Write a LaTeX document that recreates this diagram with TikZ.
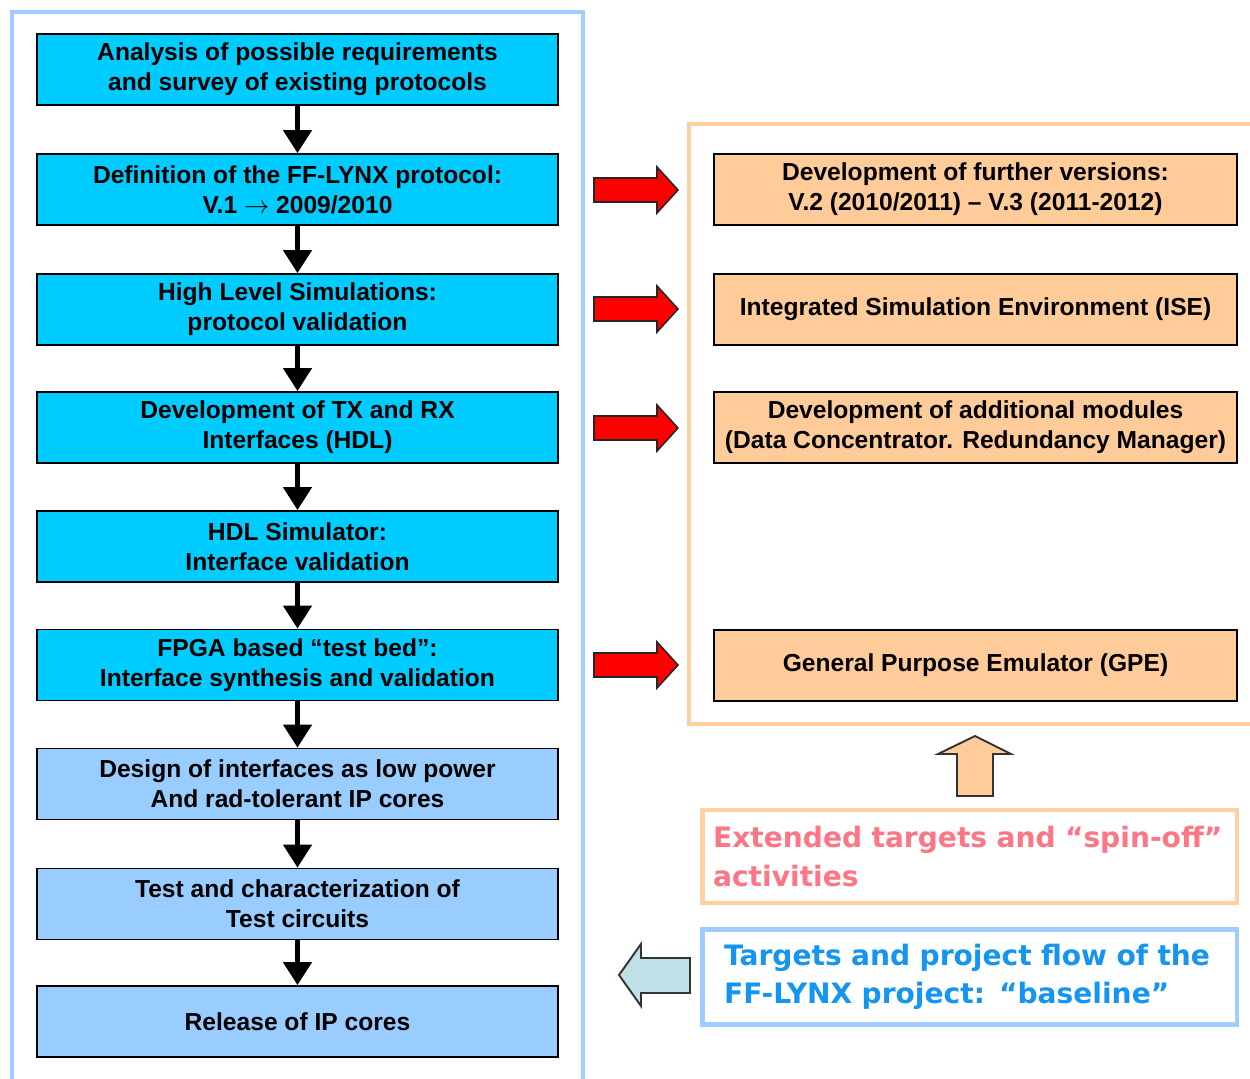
\documentclass[tikz,border=0pt]{standalone}
\usepackage{fontspec}
\setmainfont{Liberation Sans}
\newfontfamily\legendfont{DejaVu Sans}
\usetikzlibrary{arrows.meta}
\definecolor{stepcyan}{RGB}{0,204,255}
\definecolor{steplight}{RGB}{153,204,255}
\definecolor{peach}{RGB}{255,204,153}
\definecolor{framblue}{RGB}{160,204,255}
\definecolor{framorange}{RGB}{255,208,160}
\definecolor{pinktext}{RGB}{252,118,134}
\definecolor{bluetext}{RGB}{20,150,240}
\definecolor{paleteal}{RGB}{192,224,232}
\tikzset{
  x=0.02cm, y=-0.02cm,
  boxtext/.style={font=\fontsize{14}{17}\selectfont\bfseries, align=center},
  mainbox/.style={boxtext, draw=black, line width=1.1pt, fill=stepcyan,
    minimum width=10.42cm, minimum height=1.42cm, inner sep=0pt},
  corebox/.style={mainbox, fill=steplight},
  sidebox/.style={boxtext, draw=black, line width=1.1pt, fill=peach,
    minimum width=10.46cm, minimum height=1.42cm, inner sep=0pt},
  flowarrow/.style={line width=2.3pt, -{Triangle[width=16pt,length=13pt]}},
  legendbox/.style={line width=2.8pt, fill=white, minimum width=10.7cm,
    inner sep=0pt, align=left, text width=10.5cm,
    font=\legendfont\fontsize{16}{22}\selectfont\bfseries},
  redarrow/.style={fill=red, draw=black!85, line width=0.9pt, line join=miter},
  hollowarrow/.style={draw=black!80, line width=1.1pt, line join=miter},
}
\begin{document}
\begin{tikzpicture}
\useasboundingbox (0,0) rectangle (1250,1078);
\fill[white] (0,0) rectangle (1250,1078);

% outer frames
\draw[framblue, line width=2.8pt] (12,1090) -- (12,12) -- (583,12) -- (583,1090);
\draw[framorange, line width=2.8pt] (1260,124) -- (689,124) -- (689,724) -- (1260,724);

% baseline flow
\node[mainbox] (s1) at (297.5,69.5) {Analysis of possible requirements\\and survey of existing protocols};
\node[mainbox] (s2) at (297.5,189.5) {Definition of the FF-LYNX protocol:\\V.1 $\rightarrow$ 2009/2010};
\node[mainbox] (s3) at (297.5,309.5) {High Level Simulations:\\protocol validation};
\node[mainbox] (s4) at (297.5,427.5) {Development of TX and RX\\Interfaces (HDL)};
\node[mainbox] (s5) at (297.5,546.5) {HDL Simulator:\\Interface validation};
\node[mainbox] (s6) at (297.5,665) {FPGA based “test bed”:\\Interface synthesis and validation};
\node[corebox] (s7) at (297.5,784) {Design of interfaces as low power\\And rad-tolerant IP cores};
\node[corebox] (s8) at (297.5,904) {Test and characterization of\\Test circuits};
\node[corebox] (s9) at (297.5,1021.5) {Release of IP cores};

\foreach \a/\b in {s1/s2,s2/s3,s3/s4,s4/s5,s5/s6,s6/s7,s7/s8,s8/s9}
  \draw[flowarrow] (\a.south) -- (\b.north);

% spin-off activities
\node[sidebox] (e1) at (975.5,189.5) {Development of further versions:\\V.2 (2010/2011) – V.3 (2011-2012)};
\node[sidebox] (e2) at (975.5,309.5) {Integrated Simulation Environment (ISE)};
\node[sidebox] (e3) at (975.5,427.5) {Development of additional modules\\(Data Concentrator. Redundancy Manager)};
\node[sidebox] (e4) at (975.5,665.5) {General Purpose Emulator (GPE)};

% red block arrows towards the spin-off activities
\foreach \yc in {190,309,428,665}
  \draw[redarrow] (594,\yc-12) -- (657,\yc-12) -- (657,\yc-23) -- (678,\yc)
    -- (657,\yc+23) -- (657,\yc+12) -- (594,\yc+12) -- cycle;

% legend
\node[legendbox, draw=framorange, text=pinktext, minimum height=1.86cm] (lx) at (969.5,856.5)
  {\hspace*{0.12cm}Extended targets and “spin-off”\\\hspace*{0.12cm}activities};
\node[legendbox, draw=framblue, text=bluetext, minimum height=1.9cm] (lb) at (969.5,977)
  {\hspace*{0.34cm}Targets and project flow of the\\\hspace*{0.34cm}FF-LYNX project: “baseline”};

% hollow arrows of the legend
\draw[hollowarrow, fill=peach] (957,796) -- (957,754) -- (938,754) -- (975,736)
  -- (1011,754) -- (993,754) -- (993,796) -- cycle;
\draw[hollowarrow, fill=paleteal] (690,958) -- (641,958) -- (641,944) -- (619,975)
  -- (641,1006) -- (641,993) -- (690,993) -- cycle;
\end{tikzpicture}
\end{document}
